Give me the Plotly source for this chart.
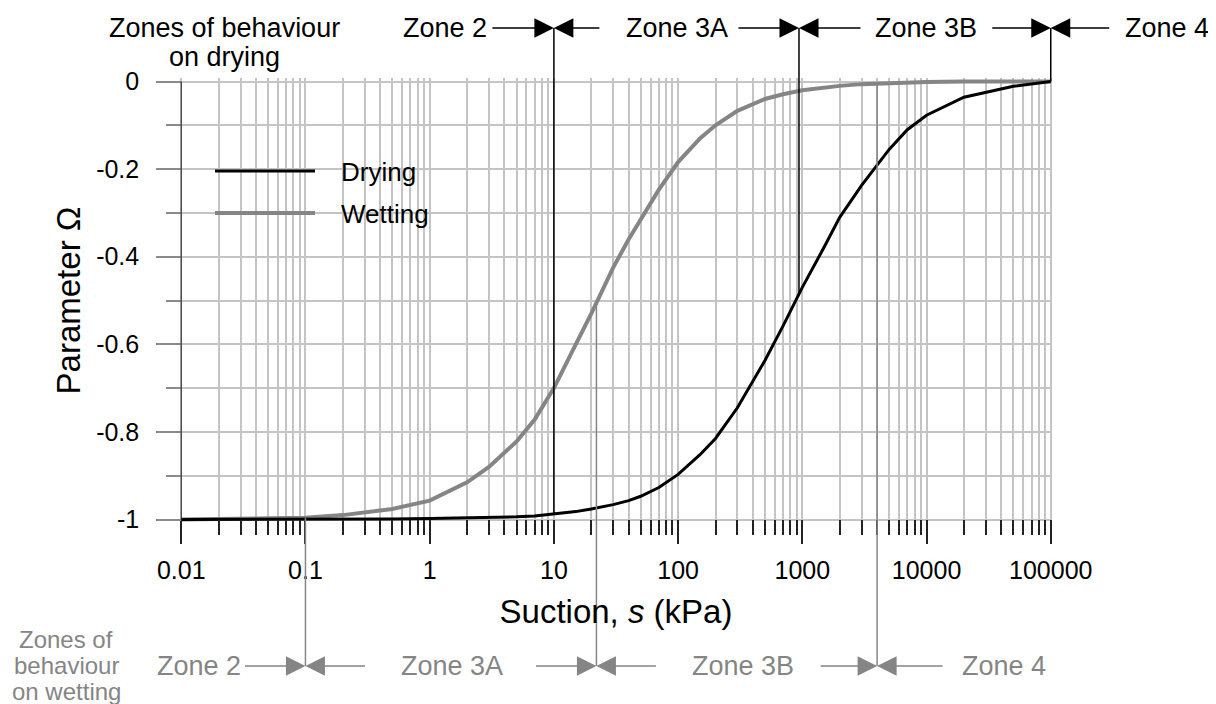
import math
import plotly.graph_objects as go

# ---------------- data ----------------
suction = [0.01, 0.02, 0.05, 0.1, 0.2, 0.5, 1, 2, 3, 5, 7, 10, 15, 20, 30, 40, 50, 70,
           100, 150, 200, 300, 500, 700, 1000, 1500, 2000, 3000, 5000, 7000, 10000,
           20000, 50000, 100000]
omega_drying = [-1.0, -1.0, -1.0, -1.0, -0.9995, -0.999, -0.998, -0.997, -0.996, -0.994,
                -0.992, -0.988, -0.982, -0.976, -0.966, -0.957, -0.947, -0.927, -0.897,
                -0.852, -0.815, -0.745, -0.637, -0.558, -0.47, -0.378, -0.31, -0.237,
                -0.155, -0.11, -0.077, -0.036, -0.011, 0.0]
omega_wetting = [-1.0, -0.999, -0.998, -0.996, -0.99, -0.976, -0.957, -0.915, -0.88, -0.822,
                 -0.772, -0.70, -0.60, -0.53, -0.425, -0.36, -0.315, -0.247, -0.184, -0.13,
                 -0.10, -0.067, -0.04, -0.029, -0.02, -0.013, -0.01, -0.006, -0.003, -0.002,
                 -0.001, 0.0, 0.0, 0.0]

drying_bounds = [10, 940, 100000]
drying_zones = ["Zone 2", "Zone 3A", "Zone 3B", "Zone 4"]
wetting_bounds = [0.1, 22, 4000]
wetting_zones = ["Zone 2", "Zone 3A", "Zone 3B", "Zone 4"]

x_tickvals = [0.01, 0.1, 1, 10, 100, 1000, 10000, 100000]
x_ticktext = ["0.01", "0.1", "1", "10", "100", "1000", "10000", "100000"]
y_tickvals = [0, -0.2, -0.4, -0.6, -0.8, -1]
y_ticktext = ["0", "-0.2", "-0.4", "-0.6", "-0.8", "-1"]
y_minorvals = [-0.1, -0.3, -0.5, -0.7, -0.9]

# ---------------- layout constants ----------------
OFF = 8                      # page body margin of the browser
W, H = 1216 - OFF, 704 - OFF
ML, MR, MT, MB = 172, 164, 70, 181
PW, PH = W - ML - MR, H - MT - MB
X_RANGE = [-2.01, 5.01]
Y_RANGE = [-1.008, 0.008]
FONT = "Liberation Sans, Arial, sans-serif"
BLACK = "#000000"
GREY = "#858585"
GRID = "#c4c4c4"


def px_x(px):
    """screen pixel x -> paper fraction"""
    return (px - OFF - ML) / PW


def px_y(py):
    """screen pixel y -> paper fraction"""
    return (H - MB - (py - OFF)) / PH


def y_paper(v):
    return (v - Y_RANGE[0]) / (Y_RANGE[1] - Y_RANGE[0])


def x_paper(v):
    return (math.log10(v) - X_RANGE[0]) / (X_RANGE[1] - X_RANGE[0])


def interp_log(xs, ys, xv):
    lx = math.log10(xv)
    for i in range(len(xs) - 1):
        a, b = math.log10(xs[i]), math.log10(xs[i + 1])
        if a <= lx <= b:
            t = (lx - a) / (b - a)
            return ys[i] + t * (ys[i + 1] - ys[i])
    return ys[-1]


minor_x = [m * 10 ** e for e in range(-2, 5) for m in range(2, 10)]

fig = go.Figure()
fig.add_trace(go.Scatter(x=suction, y=omega_wetting, mode="lines", name="Wetting",
                         line=dict(color=GREY, width=4), showlegend=False))
fig.add_trace(go.Scatter(x=suction, y=omega_drying, mode="lines", name="Drying",
                         line=dict(color=BLACK, width=3), showlegend=False))

shapes = []
annotations = []

TOP_ROW = 28
BOT_ROW = 666

# drying zone boundary lines (black, up to top row)
for b in drying_bounds:
    v = interp_log(suction, omega_drying, b)
    shapes.append(dict(type="line", xref="x", yref="paper", x0=b, x1=b,
                       y0=y_paper(v), y1=px_y(TOP_ROW), line=dict(color=BLACK, width=1.5)))
# wetting zone boundary lines (grey, down to bottom row)
for b in wetting_bounds:
    v = interp_log(suction, omega_wetting, b)
    shapes.append(dict(type="line", xref="x", yref="paper", x0=b, x1=b,
                       y0=y_paper(v), y1=px_y(BOT_ROW), line=dict(color=GREY, width=1.5)))

# y axis line at 0.01
shapes.append(dict(type="line", xref="x", yref="y", x0=0.01, x1=0.01, y0=-1, y1=0,
                   line=dict(color="#222222", width=1)))


def arrows(bounds, row, color, left_len, right_len):
    for b, ll, rl in zip(bounds, left_len, right_len):
        for off in (-ll, rl):
            annotations.append(dict(x=math.log10(b), y=px_y(row), xref="x", yref="paper",
                                    ax=off, ay=0, text="", showarrow=True, arrowhead=2,
                                    arrowsize=2.6, arrowwidth=1.5, arrowcolor=color,
                                    standoff=0, startstandoff=0))


arrows(drying_bounds, TOP_ROW, BLACK, [63, 62, 60], [47, 63, 60])
arrows(wetting_bounds, BOT_ROW, GREY, [62, 62, 58], [61, 61, 67])

tf = dict(family=FONT, size=27, color=BLACK)
tg = dict(family=FONT, size=27, color=GREY)

# top zone labels
for txt, px, anchor in zip(drying_zones, [489, 677, 926, 1211], ["right", "center", "center", "right"]):
    annotations.append(dict(x=px_x(px), y=px_y(TOP_ROW), xref="paper", yref="paper", text=txt,
                            showarrow=False, xanchor=anchor, yanchor="middle", font=tf))
for txt, py in [("Zones of behaviour", 28), ("on drying", 57)]:
    annotations.append(dict(x=px_x(224), y=px_y(py), xref="paper", yref="paper",
                            text=txt, showarrow=False, xanchor="center", yanchor="middle",
                            font=tf))
# bottom zone labels
for txt, px, anchor in zip(wetting_zones, [243, 452, 743, 960], ["right", "center", "center", "left"]):
    annotations.append(dict(x=px_x(px), y=px_y(BOT_ROW), xref="paper", yref="paper", text=txt,
                            showarrow=False, xanchor=anchor, yanchor="middle", font=tg))
for txt, py in [("Zones of", 639), ("behaviour", 665), ("on wetting", 691)]:
    annotations.append(dict(x=px_x(66), y=px_y(py), xref="paper", yref="paper",
                            text=txt, showarrow=False, xanchor="center", yanchor="middle",
                            font=dict(family=FONT, size=24, color=GREY)))

# legend (manual)
for name, color, width, py in [("Drying", BLACK, 3, 171), ("Wetting", GREY, 4, 213)]:
    shapes.append(dict(type="line", xref="paper", yref="paper", x0=px_x(215), x1=px_x(315),
                       y0=px_y(py), y1=px_y(py), line=dict(color=color, width=width)))
    annotations.append(dict(x=px_x(339), y=px_y(py + 1), xref="paper", yref="paper", text=name,
                            showarrow=False, xanchor="left", yanchor="middle",
                            font=dict(family=FONT, size=26, color=BLACK)))

fig.update_layout(
    width=W, height=H,
    margin=dict(l=ML, r=MR, t=MT, b=MB, autoexpand=False),
    paper_bgcolor="white", plot_bgcolor="white",
    font=dict(family=FONT, size=25, color=BLACK),
    shapes=shapes, annotations=annotations,
    xaxis=dict(type="log", range=X_RANGE, tickmode="array", tickvals=x_tickvals,
               ticktext=x_ticktext, ticks="outside", ticklen=24, tickwidth=1.5,
               tickcolor="#222222", showgrid=True, gridcolor=GRID, gridwidth=1.5,
               zeroline=False, showline=False, anchor="free",
               position=y_paper(-1), automargin=False,
               tickfont=dict(family=FONT, size=25, color=BLACK), ticklabelstandoff=5,
               minor=dict(tickmode="array", tickvals=minor_x, ticks="outside", ticklen=15,
                          tickwidth=1.5, tickcolor="#222222", showgrid=True,
                          gridcolor=GRID, gridwidth=1.5),
               title=dict(text="Suction, <i>s</i> (kPa)", font=dict(family=FONT, size=33),
                          standoff=16)),
    yaxis=dict(range=Y_RANGE, tickmode="array", tickvals=y_tickvals, ticktext=y_ticktext,
               ticks="outside", ticklen=25, tickwidth=1.5, tickcolor="#8a8a8a",
               showgrid=True, gridcolor=GRID, gridwidth=1.5, zeroline=False,
               showline=False, anchor="free", position=x_paper(0.01), automargin=False,
               tickfont=dict(family=FONT, size=25, color=BLACK), ticklabelstandoff=12,
               minor=dict(tickmode="array", tickvals=y_minorvals, ticks="outside", ticklen=15,
                          tickwidth=1.5, tickcolor="#8a8a8a", showgrid=True,
                          gridcolor=GRID, gridwidth=1.5),
               title=dict(text="Parameter Ω", font=dict(family=FONT, size=33), standoff=4)),
)

fig.write_html("out.html")
